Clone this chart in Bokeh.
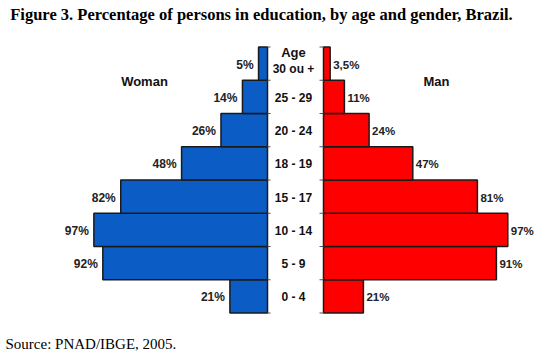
from bokeh.plotting import figure
from bokeh.models import Range1d, ColumnDataSource, Label
from bokeh.core.properties import value
from bokeh.embed import file_html
from bokeh.resources import INLINE

# ---- data (bottom to top) ----
ages = ["0 - 4", "5 - 9", "10 - 14", "15 - 17", "18 - 19", "20 - 24", "25 - 29", "30 ou +"]
woman = [21, 92, 97, 82, 48, 26, 14, 5]
man = [21, 91, 97, 81, 47, 24, 11, 3.5]
woman_labels = ["21%", "92%", "97%", "82%", "48%", "26%", "14%", "5%"]
man_labels = ["21%", "91%", "97%", "81%", "47%", "24%", "11%", "3,5%"]

title_text = "Figure 3. Percentage of persons in education, by age and gender, Brazil."
source_text = "Source: PNAD/IBGE, 2005."

W, H = 535, 356
# layout in pixels
W_ZERO, W_SCALE = 267.0, 1.79   # woman axis at px 267, growing leftwards
M_ZERO, M_SCALE = 323.0, 1.90   # man axis at px 323, growing rightwards
Y_BOTTOM, ROW = 312.5, 33.25

def wx(px):
    return (W_ZERO - px) / W_SCALE

def mx(px):
    return (px - M_ZERO) / M_SCALE

def yv(py):
    return (Y_BOTTOM - py) / ROW - 0.5

p = figure(width=W, height=H, output_backend="svg", toolbar_location=None,
           x_range=Range1d(wx(0), wx(W)), y_range=Range1d(yv(H), yv(0)),
           x_axis_type=None, y_axis_type=None, min_border=0,
           background_fill_color="white", border_fill_color="white")
p.extra_x_ranges = {"man": Range1d(mx(0), mx(W))}
p.outline_line_color = None
p.grid.visible = False

idx = list(range(len(ages)))
src = ColumnDataSource(dict(y=idx, age=ages, woman=woman, man=man,
                            wl=woman_labels, ml=man_labels))

BLUE = "#0B5CC4"
RED = "#FF0000"
EDGE = "#1a1a1a"
SANS = value("Liberation Sans")

p.hbar(y="y", left=0, right="woman", height=1, source=src,
       fill_color=BLUE, line_color=EDGE, line_width=1.5)
p.hbar(y="y", left=0, right="man", height=1, source=src,
       fill_color=RED, line_color=EDGE, line_width=1.5, x_range_name="man")

# small tick marks at the row boundaries
bounds = [i - 0.5 for i in range(len(ages) + 1)]
p.segment(x0=[0] * len(bounds), x1=[wx(W_ZERO + 3)] * len(bounds), y0=bounds, y1=bounds,
          line_color="#555555", line_width=1)
p.segment(x0=[0] * len(bounds), x1=[mx(M_ZERO - 4)] * len(bounds), y0=bounds, y1=bounds,
          line_color="#555555", line_width=1, x_range_name="man")

# value labels
p.text(x="woman", y="y", text="wl", source=src, x_offset=-5, y_offset=1,
       text_align="right", text_baseline="middle", text_font=SANS,
       text_font_style="bold", text_font_size="12px", text_color="#222222")
p.text(x="man", y="y", text="ml", source=src, x_offset=3, y_offset=1,
       text_align="left", text_baseline="middle", text_font=SANS,
       text_font_style="bold", text_font_size="11.5px", text_color="#222222",
       x_range_name="man")

# age labels between the two halves
mid = wx(293)
p.text(x=[mid] * (len(ages) - 1), y=idx[:-1], text=ages[:-1], y_offset=1,
       text_align="center", text_baseline="middle", text_font=SANS,
       text_font_style="bold", text_font_size="12px", text_color="#111111")
p.text(x=[mid], y=[idx[-1]], text=[ages[-1]], y_offset=5,
       text_align="center", text_baseline="middle", text_font=SANS,
       text_font_style="bold", text_font_size="12px", text_color="#111111")
p.add_layout(Label(x=mid, y=idx[-1], y_offset=11, text="Age", text_align="center",
                   text_baseline="middle", text_font="Liberation Sans",
                   text_font_style="bold", text_font_size="13px", text_color="#111111"))

p.add_layout(Label(x=wx(144), y=yv(81), text="Woman", text_align="center",
                   text_baseline="middle", text_font="Liberation Sans",
                   text_font_style="bold", text_font_size="13px", text_color="#111111"))
p.add_layout(Label(x=mx(436), y=yv(81), text="Man", text_align="center",
                   text_baseline="middle", text_font="Liberation Sans",
                   text_font_style="bold", text_font_size="13px", text_color="#111111",
                   x_range_name="man"))

p.add_layout(Label(x=wx(261), y=yv(14), text=title_text, text_align="center",
                   text_baseline="middle", text_font="Liberation Serif",
                   text_font_style="bold", text_font_size="16.5px", text_color="black"))
p.add_layout(Label(x=wx(5), y=yv(343), text=source_text, text_align="left",
                   text_baseline="middle", text_font="Liberation Serif",
                   text_font_size="15px", text_color="black"))

open("out.html", "w").write(file_html(p, INLINE))
